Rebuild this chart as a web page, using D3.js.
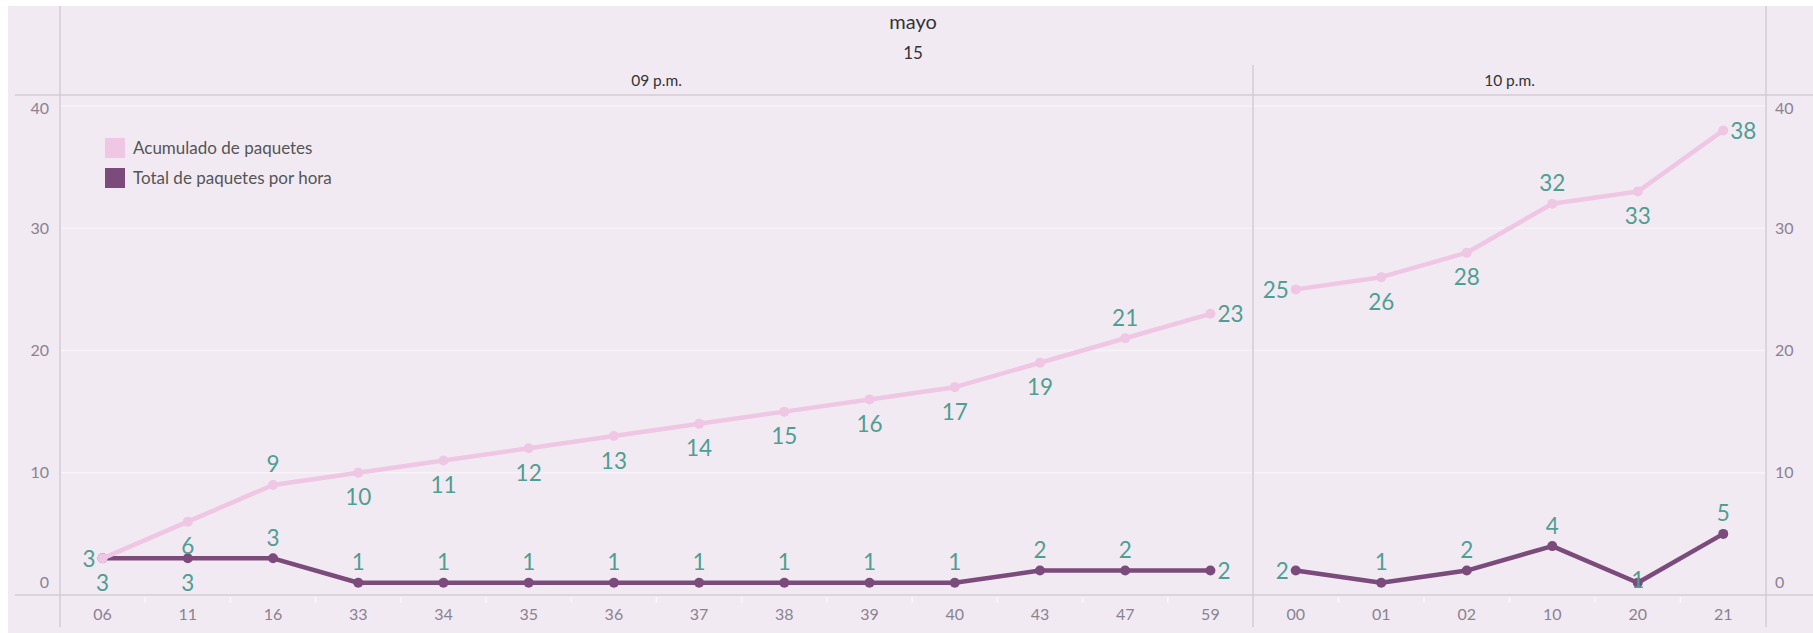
<!DOCTYPE html>
<html>
<head>
<meta charset="utf-8">
<script src="https://cdn.jsdelivr.net/npm/d3@7"></script>
<style>
  body { margin: 0; background: #fff; }
  text { font-family: Lato, "Noto Sans", sans-serif; }
</style>
</head>
<body>
<div id="chart"></div>
<script>
// header rows
var monthLabel = 'mayo';
var dayLabel = '15';
var hourLabels = ['09 p.m.', '10 p.m.'];

// minutes per hour pane
var minutes9 = ['06','11','16','33','34','35','36','37','38','39','40','43','47','59'];
var minutes10 = ['00','01','02','10','20','21'];

// series, in minute order (09 p.m. then 10 p.m.)
var acumulado = [3,6,9,10,11,12,13,14,15,16,17,19,21,23, 25,26,28,32,33,38];
var totalHora = [3,3,3,1,1,1,1,1,1,1,1,2,2,2, 2,1,2,4,1,5];

// where Tableau put each mark label
var acumPos = ['left','below','above','below','below','below','below','below','below','below','below','below','above','right',
               'left','below','below','above','below','right'];
var totalPos = ['below','below','above','above','above','above','above','above','above','above','above','above','above','right',
                'left','above','above','above','center','above'];

var yTicks = [0,10,20,30,40];
var seriesNames = ['Acumulado de paquetes', 'Total de paquetes por hora'];

var colors = {
  bg: '#f2eaf3',
  acum: '#efc6e3',
  total: '#7b4b7b',
  label: '#4f9e92',
  rule: '#d3cdd4',
  tick: '#8a8290'
};

var W = 1813, H = 633;
var paneLeft = 60, paneDiv = 1253, paneRight = 1766;
var paneTop = 95, paneBottom = 595;

var svg = d3.select('#chart').append('svg')
  .attr('width', W)
  .attr('height', H);

svg.append('rect')
  .attr('x', 8).attr('y', 6)
  .attr('width', W - 8).attr('height', H - 6)
  .attr('fill', colors.bg);

var y = d3.scaleLinear().domain([0, 40.9]).range([paneBottom, paneTop]);

var panes = [
  { hour: hourLabels[0], minutes: minutes9, x0: paneLeft, x1: paneDiv, offset: 0 },
  { hour: hourLabels[1], minutes: minutes10, x0: paneDiv, x1: paneRight, offset: minutes9.length }
];
panes.forEach(function (p) {
  p.x = d3.scaleBand().domain(p.minutes).range([p.x0, p.x1]);
});

// gridlines
svg.append('g')
  .selectAll('line')
  .data(yTicks.filter(function (d) { return d > 0; }))
  .enter()
  .append('line')
  .attr('x1', paneLeft).attr('x2', paneRight)
  .attr('y1', function (d) { return y(d); })
  .attr('y2', function (d) { return y(d); })
  .attr('stroke', '#fff')
  .attr('stroke-opacity', 0.45)
  .attr('stroke-width', 1.5);

// frame rules
var rules = svg.append('g').attr('stroke', colors.rule).attr('stroke-width', 1.5);
rules.append('line').attr('x1', 15).attr('x2', W).attr('y1', paneTop).attr('y2', paneTop);
rules.append('line').attr('x1', 15).attr('x2', W).attr('y1', paneBottom).attr('y2', paneBottom);
rules.append('line').attr('x1', paneLeft).attr('x2', paneLeft).attr('y1', 6).attr('y2', 627);
rules.append('line').attr('x1', paneRight).attr('x2', paneRight).attr('y1', 6).attr('y2', 627);
rules.append('line').attr('x1', paneDiv).attr('x2', paneDiv).attr('y1', 65).attr('y2', 627);

// headers
svg.append('text')
  .attr('x', (paneLeft + paneRight) / 2).attr('y', 29)
  .attr('text-anchor', 'middle')
  .attr('font-size', 20).attr('fill', '#333')
  .text(monthLabel);
svg.append('text')
  .attr('x', (paneLeft + paneRight) / 2).attr('y', 59)
  .attr('text-anchor', 'middle')
  .attr('font-size', 17).attr('fill', '#333')
  .text(dayLabel);

// y axes (left and right)
var yAxisL = d3.axisLeft(y).tickValues(yTicks).tickSize(0).tickPadding(0);
var yAxisR = d3.axisRight(y).tickValues(yTicks).tickSize(0).tickPadding(0);
[ [yAxisL, 49], [yAxisR, 1775] ].forEach(function (a) {
  var g = svg.append('g').attr('transform', 'translate(' + a[1] + ',0)').call(a[0]);
  g.select('.domain').remove();
  g.selectAll('text')
    .attr('font-size', 16)
    .attr('fill', colors.tick)
    .attr('dy', function (d) { return d === 0 ? '-0.45em' : (d === 40 ? '0.45em' : '0.32em'); });
});

var line = d3.line()
  .x(function (d) { return d.x; })
  .y(function (d) { return d.y; });

panes.forEach(function (p) {
  // hour header
  svg.append('text')
    .attr('x', (p.x0 + p.x1) / 2).attr('y', 86)
    .attr('text-anchor', 'middle')
    .attr('font-size', 15.5).attr('fill', '#333')
    .text(p.hour);

  // x axis
  var gx = svg.append('g')
    .attr('transform', 'translate(0,' + paneBottom + ')')
    .call(d3.axisBottom(p.x).tickSize(0).tickPadding(14));
  gx.select('.domain').remove();
  gx.selectAll('text').attr('font-size', 16).attr('fill', colors.tick);

  // faint white ticks between bands
  svg.append('g').selectAll('line')
    .data(p.minutes.slice(1))
    .enter()
    .append('line')
    .attr('x1', function (d) { return p.x(d); })
    .attr('x2', function (d) { return p.x(d); })
    .attr('y1', paneBottom + 2).attr('y2', paneBottom + 8)
    .attr('stroke', '#fff').attr('stroke-opacity', 0.6).attr('stroke-width', 1.5);

  var seriesList = [
    { values: totalHora, pos: totalPos, color: colors.total },
    { values: acumulado, pos: acumPos, color: colors.acum }
  ];

  seriesList.forEach(function (s) {
    var pts = p.minutes.map(function (m, i) {
      var k = p.offset + i;
      return { x: p.x(m) + p.x.bandwidth() / 2, y: y(s.values[k]), v: s.values[k], pos: s.pos[k] };
    });
    s.pts = pts;

    svg.append('path')
      .datum(pts)
      .attr('d', line)
      .attr('fill', 'none')
      .attr('stroke', s.color)
      .attr('stroke-width', 4.5)
      .attr('stroke-linejoin', 'round');

    svg.append('g').selectAll('circle')
      .data(pts)
      .enter()
      .append('circle')
      .attr('cx', function (d) { return d.x; })
      .attr('cy', function (d) { return d.y; })
      .attr('r', 5)
      .attr('fill', s.color);
  });

  seriesList.forEach(function (s) {
    svg.append('g').selectAll('text')
      .data(s.pts)
      .enter()
      .append('text')
      .attr('font-size', 22.5)
      .attr('fill', colors.label)
      .attr('dominant-baseline', 'central')
      .attr('text-anchor', function (d) {
        return d.pos === 'left' ? 'end' : (d.pos === 'right' ? 'start' : 'middle');
      })
      .attr('x', function (d) {
        if (d.pos === 'left') return d.x - 7;
        if (d.pos === 'right') return d.x + 7;
        return d.x;
      })
      .attr('y', function (d) {
        if (d.pos === 'above') return d.y - 21;
        if (d.pos === 'below') return d.y + 24;
        if (d.pos === 'center') return d.y - 3;
        return d.y;
      })
      .text(function (d) { return d.v; });
  });
});

// legend
var legend = svg.append('g').attr('transform', 'translate(105,138)');
var legendItems = legend.selectAll('g')
  .data(seriesNames)
  .enter()
  .append('g')
  .attr('transform', function (d, i) { return 'translate(0,' + (i * 30) + ')'; });
legendItems.append('rect')
  .attr('width', 20).attr('height', 20)
  .attr('fill', function (d, i) { return i === 0 ? colors.acum : colors.total; });
legendItems.append('text')
  .attr('x', 28).attr('y', 16)
  .attr('font-size', 17)
  .attr('fill', '#555')
  .text(function (d) { return d; });
</script>
</body>
</html>
